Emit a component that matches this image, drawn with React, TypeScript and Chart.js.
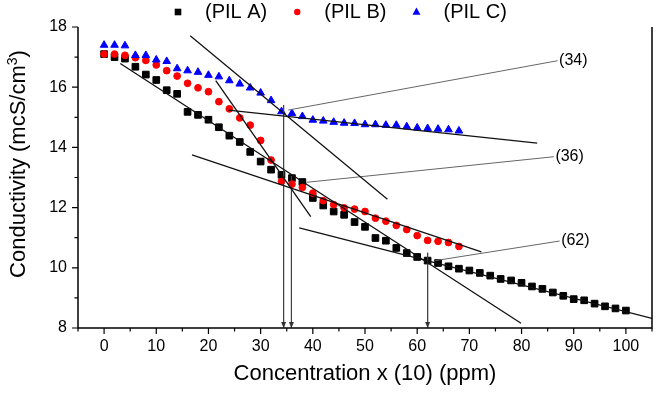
import React, { useEffect, useRef } from 'react';
import { Chart, registerables } from 'chart.js';

Chart.register(...registerables);

const FONT = "'Liberation Sans', Arial, Helvetica, sans-serif";

// Concentration values (x axis, units of 10 ppm)
const concA = [0, 2, 4, 6, 8, 10, 12, 14, 16, 18, 20, 22, 24, 26, 28, 30, 32, 34, 36, 38, 40, 42, 44, 46, 48, 50,
  52, 54, 56, 58, 60, 62, 64, 66, 68, 70, 72, 74, 76, 78, 80, 82, 84, 86, 88, 90, 92, 94, 96, 98, 100];
const concBC = [0, 2, 4, 6, 8, 10, 12, 14, 16, 18, 20, 22, 24, 26, 28, 30, 32, 34, 36, 38, 40, 42, 44, 46, 48, 50,
  52, 54, 56, 58, 60, 62, 64, 66, 68];

// Conductivity (mcS/cm3)
const pilA = [17.1, 17.0, 16.95, 16.68, 16.42, 16.24, 15.9, 15.78, 15.18, 15.08, 14.92, 14.67, 14.39, 14.18, 13.85,
  13.53, 13.26, 13.09, 12.98, 12.85, 12.32, 12.07, 11.87, 11.76, 11.52, 11.36, 10.99, 10.9, 10.66, 10.49, 10.36,
  10.24, 10.16, 10.05, 9.97, 9.91, 9.83, 9.74, 9.63, 9.58, 9.5, 9.38, 9.3, 9.18, 9.07, 8.96, 8.92, 8.81, 8.72,
  8.65, 8.58];
const pilB = [17.1, 17.1, 17.06, 16.98, 16.89, 16.74, 16.55, 16.37, 16.13, 15.98, 15.85, 15.52, 15.28, 14.98, 14.74,
  14.23, 13.58, 12.87, 12.78, 12.67, 12.48, 12.23, 12.1, 11.99, 11.95, 11.87, 11.65, 11.55, 11.41, 11.27, 11.07,
  10.91, 10.88, 10.84, 10.71];
const pilC = [17.4, 17.4, 17.38, 17.06, 17.06, 16.91, 16.86, 16.62, 16.55, 16.5, 16.4, 16.35, 16.22, 16.11, 15.98,
  15.81, 15.56, 15.19, 15.13, 15.03, 14.91, 14.88, 14.84, 14.81, 14.8, 14.76, 14.76, 14.74, 14.74, 14.69, 14.65,
  14.63, 14.61, 14.59, 14.55];

const seriesLabels = ['(PIL A)', '(PIL B)', '(PIL C)'];
const seriesColors = ['#000000', '#FF0000', '#0000FF'];
const seriesStyles = ['rect', 'circle', 'triangle'];

const xTitle = 'Concentration x (10) (ppm)';
const yTitleMain = 'Conductivity (mcS/cm';
const yTitleSup = '3';
const yTitleEnd = ')';
const xMajorTicks = [0, 10, 20, 30, 40, 50, 60, 70, 80, 90, 100];
const yMajorTicks = [8, 10, 12, 14, 16, 18];

// Linear fit segments: [x1, y1, x2, y2]
const fitLines = [
  [3.1, 16.79, 79.9, 8.16],
  [37.4, 11.33, 105, 8.32],
  [21.4, 16.22, 39.6, 11.7],
  [16.85, 13.75, 72.3, 10.53],
  [16.5, 17.71, 54.3, 12.28],
  [23.8, 15.24, 83.0, 14.14],
];

// Break points (vertical arrows) and their labels
const breakX = [34.4, 35.9, 62];
const breakTop = [15.41, 13.05, 10.5];
const breakLabels = ['(34)', '(36)', '(62)'];
const leaderStart = [[35.3, 15.24], [38.8, 12.84], [63.5, 10.24]];
const leaderEnd = [[86.9, 16.88], [86.2, 13.69], [87.3, 10.89]];

const pts = (xs: number[], ys: number[]) => xs.map((x, i) => ({ x, y: ys[i] }));

function drawMarker(ctx: CanvasRenderingContext2D, style: string, x: number, y: number, color: string) {
  ctx.fillStyle = color;
  ctx.beginPath();
  if (style === 'rect') {
    ctx.rect(x - 3.3, y - 3.3, 6.6, 6.6);
  } else if (style === 'circle') {
    ctx.arc(x, y, 3.2, 0, Math.PI * 2);
  } else {
    ctx.moveTo(x, y - 4.5);
    ctx.lineTo(x + 4, y + 2.7);
    ctx.lineTo(x - 4, y + 2.7);
    ctx.closePath();
  }
  ctx.fill();
}

const decorPlugin = {
  id: 'decor',
  afterDatasetsDraw(chart: any) {
    const { ctx, chartArea: a, scales } = chart;
    const xs = scales.x;
    const ys = scales.y;
    ctx.save();
    // axis frame: left, bottom, right
    ctx.strokeStyle = '#000';
    ctx.lineWidth = 1.5;
    ctx.beginPath();
    ctx.moveTo(a.left, a.top);
    ctx.lineTo(a.left, a.bottom);
    ctx.lineTo(a.right, a.bottom);
    ctx.lineTo(a.right, a.top);
    ctx.stroke();
    // tick marks
    ctx.lineWidth = 1.2;
    ctx.beginPath();
    xs.ticks.forEach((t: any) => {
      const px = xs.getPixelForValue(t.value);
      const major = xMajorTicks.includes(t.value);
      ctx.moveTo(px, a.bottom);
      ctx.lineTo(px, a.bottom + (major ? 6 : 3.5));
    });
    ys.ticks.forEach((t: any) => {
      const py = ys.getPixelForValue(t.value);
      const major = yMajorTicks.includes(t.value);
      ctx.moveTo(a.left, py);
      ctx.lineTo(a.left - (major ? 6 : 3.5), py);
    });
    ctx.stroke();
    // arrowheads
    ctx.fillStyle = '#333';
    breakX.forEach((bx) => {
      const px = xs.getPixelForValue(bx);
      ctx.beginPath();
      ctx.moveTo(px, a.bottom);
      ctx.lineTo(px - 2.5, a.bottom - 6);
      ctx.lineTo(px + 2.5, a.bottom - 6);
      ctx.closePath();
      ctx.fill();
    });
    // break labels
    ctx.fillStyle = '#000';
    ctx.font = `16px ${FONT}`;
    ctx.textBaseline = 'middle';
    ctx.textAlign = 'left';
    breakLabels.forEach((lab, i) => {
      const px = xs.getPixelForValue(leaderEnd[i][0]);
      const py = ys.getPixelForValue(leaderEnd[i][1]);
      ctx.fillText(lab, px + 1.5, py);
    });
    ctx.restore();
  },
  afterDraw(chart: any) {
    const { ctx } = chart;
    ctx.save();
    // legend
    ctx.font = `20px ${FONT}`;
    ctx.textBaseline = 'middle';
    ctx.textAlign = 'left';
    let mx = 178;
    const ly = 12;
    for (let i = 0; i < 3; i++) {
      drawMarker(ctx, seriesStyles[i], mx, ly, seriesColors[i]);
      const tx = mx + 27;
      ctx.fillStyle = '#000';
      ctx.fillText(seriesLabels[i], tx, ly);
      const w = ctx.measureText(seriesLabels[i]).width;
      mx = tx + w + 30;
    }
    // y-axis title with superscript
    const big = `22px ${FONT}`;
    const small = `14px ${FONT}`;
    ctx.font = big;
    const w1 = ctx.measureText(yTitleMain).width;
    const w3 = ctx.measureText(yTitleEnd).width;
    ctx.font = small;
    const w2 = ctx.measureText(yTitleSup).width;
    const total = w1 + w2 + w3;
    ctx.translate(19, 164);
    ctx.rotate(-Math.PI / 2);
    ctx.fillStyle = '#000';
    ctx.textBaseline = 'middle';
    let sx = -total / 2;
    ctx.font = big;
    ctx.fillText(yTitleMain, sx, 0);
    sx += w1;
    ctx.font = small;
    ctx.fillText(yTitleSup, sx, -6);
    sx += w2;
    ctx.font = big;
    ctx.fillText(yTitleEnd, sx, 0);
    ctx.restore();
  },
};

export default function App() {
  const ref = useRef<HTMLCanvasElement | null>(null);

  useEffect(() => {
    document.body.style.margin = '0';
    const canvas = ref.current;
    if (!canvas) return;

    const markerSets = [pilA, pilB, pilC].map((vals, i) => ({
      label: seriesLabels[i],
      data: pts(i === 0 ? concA : concBC, vals),
      showLine: false,
      pointStyle: seriesStyles[i],
      pointRadius: i === 0 ? 4.7 : i === 1 ? 3.4 : 4.4,
      pointBorderWidth: 1,
      backgroundColor: seriesColors[i],
      borderColor: seriesColors[i],
      order: 3 - i,
    }));

    const lineSets = fitLines.map((l) => ({
      label: '',
      data: [{ x: l[0], y: l[1] }, { x: l[2], y: l[3] }],
      showLine: true,
      pointRadius: 0,
      borderColor: '#111',
      borderWidth: 1.3,
      order: 0,
    }));

    const breakSets = breakX.map((bx, i) => ({
      label: '',
      data: [{ x: bx, y: breakTop[i] }, { x: bx, y: 8 }],
      showLine: true,
      pointRadius: 0,
      borderColor: '#444',
      borderWidth: 1,
      order: 0,
    }));

    const leaderSets = leaderStart.map((s, i) => ({
      label: '',
      data: [{ x: s[0], y: s[1] }, { x: leaderEnd[i][0], y: leaderEnd[i][1] }],
      showLine: true,
      pointRadius: 0,
      borderColor: '#666',
      borderWidth: 1,
      order: 0,
    }));

    const chart = new Chart(canvas, {
      type: 'scatter',
      data: { datasets: [...markerSets, ...lineSets, ...breakSets, ...leaderSets] as any },
      options: {
        responsive: false,
        animation: false,
        layout: { padding: { top: 27, right: 3, left: 0, bottom: 0 } },
        plugins: {
          legend: { display: false },
          tooltip: { enabled: false },
        },
        scales: {
          x: {
            type: 'linear',
            min: -5,
            max: 105,
            grid: { display: false, drawTicks: false },
            border: { display: false },
            ticks: {
              stepSize: 5,
              autoSkip: false,
              maxRotation: 0,
              padding: 9,
              color: '#000',
              font: { family: FONT, size: 16 },
              callback: (v: any) => (xMajorTicks.includes(Number(v)) ? String(v) : ''),
            },
            title: {
              display: true,
              text: xTitle,
              color: '#000',
              font: { family: FONT, size: 22 },
              padding: { top: 0, bottom: 7 },
            },
            afterFit: (s: any) => { s.height = 66; },
          },
          y: {
            type: 'linear',
            min: 8,
            max: 18,
            grid: { display: false, drawTicks: false },
            border: { display: false },
            ticks: {
              stepSize: 1,
              autoSkip: false,
              padding: 11,
              color: '#000',
              font: { family: FONT, size: 16 },
              callback: (v: any) => (yMajorTicks.includes(Number(v)) ? String(v) : ''),
            },
            title: { display: false },
            afterFit: (s: any) => { s.width = 78; },
          },
        },
      },
      plugins: [decorPlugin],
    });

    return () => chart.destroy();
  }, []);

  return (
    <div style={{ width: 661, height: 394, background: '#fff' }}>
      <canvas ref={ref} width={661} height={394} style={{ display: 'block' }} />
    </div>
  );
}
